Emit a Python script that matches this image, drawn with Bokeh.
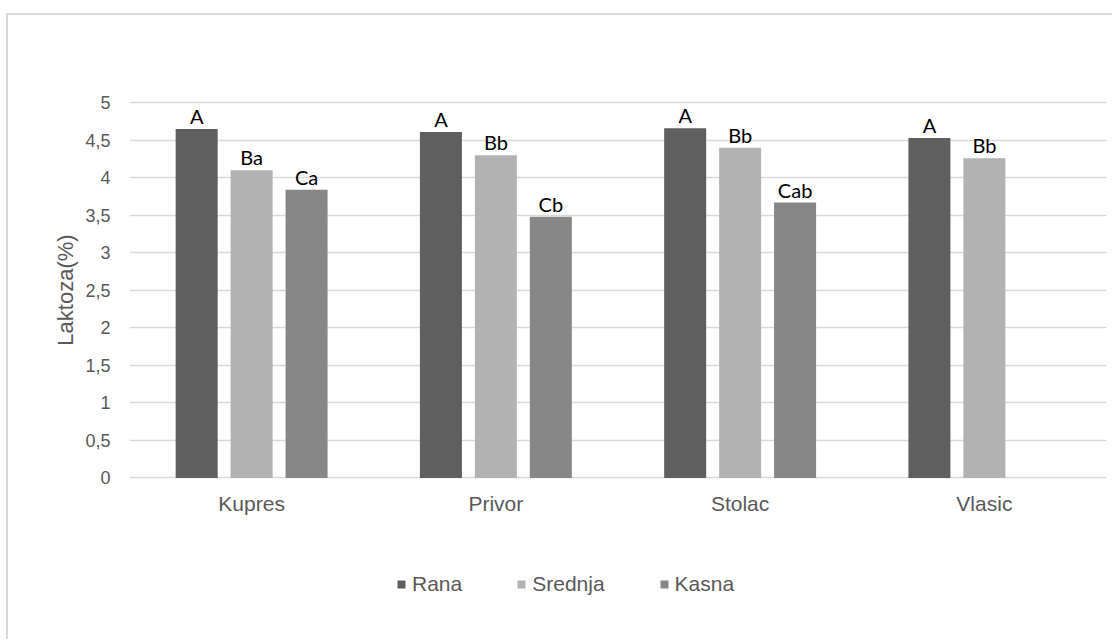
from bokeh.plotting import figure
from bokeh.layouts import column
from bokeh.models import (FactorRange, Range1d, FixedTicker, CustomJSTickFormatter,
                          ColumnDataSource, Legend, LegendItem)
from bokeh.transform import dodge
from bokeh.embed import file_html
from bokeh.resources import INLINE
from bokeh.core.properties import value

# ---- data ----
locations = ["Kupres", "Privor", "Stolac", "Vlasic"]
series = ["Rana", "Srednja", "Kasna"]
rana = [4.65, 4.61, 4.66, 4.53]
srednja = [4.10, 4.30, 4.40, 4.26]
kasna = [3.84, 3.48, 3.67, float("nan")]
rana_labels = ["A", "A", "A", "A"]
srednja_labels = ["Ba", "Bb", "Bb", "Bb"]
kasna_labels = ["Ca", "Cb", "Cab", ""]
y_ticks = [0, 0.5, 1, 1.5, 2, 2.5, 3, 3.5, 4, 4.5, 5]
y_title = "Laktoza(%)"

# ---- styles ----
colors = ["#5f5f5f", "#b2b2b2", "#878787"]
offsets = [-0.225, 0.0, 0.225]
bar_width = 0.172
axis_font = "Liberation Sans"
axis_color = "#595959"
border_css = "2px solid #d9d9d9"

p = figure(x_range=FactorRange(*locations), y_range=Range1d(-0.02, 5.03),
           width=1104, height=520, output_backend="svg", toolbar_location=None,
           min_border_left=121, min_border_right=6, min_border_top=85,
           min_border_bottom=56)
p.outline_line_color = None
p.background_fill_color = "white"
p.border_fill_color = "white"

p.xgrid.grid_line_color = None
p.ygrid.ticker = FixedTicker(ticks=y_ticks)
p.ygrid.grid_line_color = "#d9d9d9"
p.ygrid.grid_line_width = 1.4

for ax in (p.xaxis[0], p.yaxis[0]):
    ax.axis_line_color = None
    ax.major_tick_line_color = None
    ax.minor_tick_line_color = None
    ax.major_tick_out = 0
    ax.major_tick_in = 0
    ax.major_label_text_font = axis_font
    ax.major_label_text_color = axis_color

p.yaxis.major_label_text_font_size = "18px"
p.xaxis.major_label_text_font_size = "21px"
p.yaxis.ticker = FixedTicker(ticks=y_ticks)
p.yaxis.formatter = CustomJSTickFormatter(code="return tick.toString().replace('.', ',')")
p.yaxis.major_label_standoff = 19
p.yaxis.axis_label = y_title
p.yaxis.axis_label_text_font = axis_font
p.yaxis.axis_label_text_font_size = "22px"
p.yaxis.axis_label_text_font_style = "normal"
p.yaxis.axis_label_text_color = axis_color
p.yaxis.axis_label_standoff = 4
p.xaxis.major_label_standoff = 12

vals = [rana, srednja, kasna]
labs = [rana_labels, srednja_labels, kasna_labels]
sources = []
for i, name in enumerate(series):
    src = ColumnDataSource(dict(x=locations, top=vals[i], label=labs[i]))
    sources.append(src)
    p.vbar(x=dodge("x", offsets[i], range=p.x_range), top="top", width=bar_width,
           fill_color=colors[i], line_color=None, source=src)
    p.text(x=dodge("x", offsets[i], range=p.x_range), y="top", text="label", source=src,
           text_align="center", text_baseline="alphabetic", y_offset=-13,
           text_font=value("Lato"), text_font_size="20px", text_color="black")

# legend strip below the chart (its bars lie outside its own y range; only the legend shows)
lf = figure(width=1104, height=104, x_range=FactorRange(*locations), y_range=Range1d(10, 11),
            x_axis_type=None, y_axis_type=None, output_backend="svg",
            toolbar_location=None, min_border=0)
lf.outline_line_color = None
lf.xgrid.visible = False
lf.ygrid.visible = False
items = []
for i, name in enumerate(series):
    r = lf.vbar(x="x", top="top", width=bar_width, fill_color=colors[i],
                line_color=None, source=sources[i])
    items.append(LegendItem(label=name, renderers=[r]))
legend = Legend(items=items, orientation="horizontal", location=(267, 43),
                glyph_width=10, glyph_height=10, label_standoff=6, spacing=54,
                padding=0, margin=0, border_line_color=None, background_fill_alpha=0,
                label_text_font=axis_font, label_text_font_size="21px",
                label_text_color=axis_color)
lf.add_layout(legend)

layout = column(p, lf, spacing=0)
layout.styles = {"border-top": border_css, "border-left": border_css,
                 "margin-top": "13px", "margin-left": "6px"}

open("out.html", "w").write(file_html(layout, INLINE))
